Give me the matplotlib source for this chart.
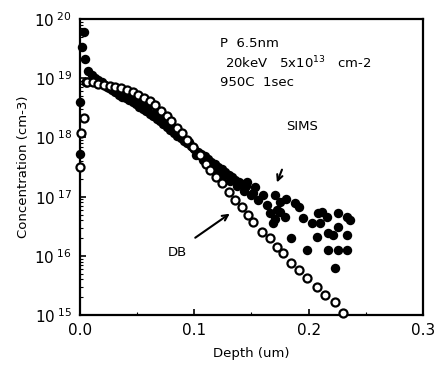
import matplotlib.pyplot as plt
import numpy as np

# Data (depth in um, log10 of concentration in cm-3)
db_depth = [0.000, 0.001, 0.003, 0.005,
            0.006, 0.011, 0.016, 0.021, 0.026, 0.031, 0.036, 0.041, 0.046, 0.051,
            0.056, 0.061, 0.066, 0.071, 0.076, 0.080, 0.085, 0.089, 0.094, 0.099,
            0.105, 0.110, 0.114, 0.119, 0.124, 0.130, 0.136, 0.142, 0.147, 0.151,
            0.159, 0.166, 0.172, 0.178, 0.185, 0.192, 0.199, 0.207, 0.214, 0.223, 0.230]
db_log = [17.50, 18.07, 18.33, 18.93,
          18.94, 18.93, 18.91, 18.89, 18.87, 18.85, 18.83, 18.80, 18.77, 18.72,
          18.67, 18.61, 18.54, 18.45, 18.36, 18.27, 18.16, 18.07, 17.95, 17.84,
          17.71, 17.56, 17.45, 17.34, 17.23, 17.08, 16.94, 16.82, 16.69, 16.57,
          16.40, 16.30, 16.15, 16.05, 15.88, 15.76, 15.63, 15.47, 15.34, 15.22, 15.03]

sims_depth = [0.003, 0.002, 0.004, 0.007, 0.000, 0.000,
              0.010, 0.013, 0.016, 0.019, 0.022, 0.025, 0.028, 0.031, 0.034, 0.037,
              0.040, 0.043, 0.046, 0.049, 0.052, 0.055, 0.058, 0.061, 0.064, 0.067,
              0.070, 0.073, 0.076, 0.079, 0.082, 0.085, 0.088, 0.091, 0.094, 0.097,
              0.100, 0.103, 0.106, 0.109, 0.112, 0.115, 0.118, 0.121, 0.124, 0.127,
              0.130, 0.133, 0.136, 0.139, 0.142, 0.145,
              0.0115, 0.0175, 0.0235, 0.0295, 0.0355, 0.0415, 0.0475, 0.0535, 0.0595,
              0.0655, 0.0715, 0.0775, 0.0835, 0.0895, 0.0955, 0.1015, 0.1075, 0.1135,
              0.1195, 0.1255, 0.1315, 0.1375, 0.1435, 0.1495,
              0.146, 0.153, 0.151, 0.156, 0.160, 0.1636, 0.166, 0.169, 0.1706, 0.171,
              0.172, 0.175, 0.175, 0.179, 0.180, 0.185, 0.188, 0.192, 0.195, 0.199,
              0.203, 0.207, 0.208, 0.210, 0.212, 0.216, 0.217, 0.217, 0.221, 0.223,
              0.226, 0.226, 0.226, 0.234, 0.234, 0.234, 0.236]
sims_log = [19.78, 19.53, 19.33, 19.13, 18.60, 17.72,
            19.05, 19.01, 18.97, 18.93, 18.88, 18.84, 18.80, 18.76, 18.72, 18.68,
            18.66, 18.63, 18.60, 18.56, 18.52, 18.48, 18.45, 18.40, 18.36, 18.31,
            18.27, 18.22, 18.17, 18.13, 18.08, 18.03, 17.99, 17.94, 17.90, 17.85,
            17.80, 17.76, 17.72, 17.68, 17.63, 17.58, 17.55, 17.50, 17.46, 17.41,
            17.37, 17.33, 17.28, 17.25, 17.21, 17.18,
            18.99, 18.92, 18.85, 18.80, 18.77, 18.72, 18.66, 18.59, 18.51,
            18.41, 18.33, 18.23, 18.13, 18.03, 17.93, 17.70, 17.62, 17.53,
            17.44, 17.35, 17.27, 17.18, 17.10, 17.02,
            17.25, 17.16, 17.06, 16.94, 17.02, 16.86, 16.72, 16.55, 17.03, 16.62,
            16.77, 16.91, 16.74, 16.66, 16.96, 16.30, 16.89, 16.82, 16.64, 16.10,
            16.55, 16.32, 16.72, 16.55, 16.74, 16.66, 16.39, 16.10, 16.35, 15.79,
            16.72, 16.49, 16.10, 16.35, 16.10, 16.65, 16.60]

fig = plt.figure(figsize=(4.4, 3.69), dpi=100)
ax = fig.add_axes([0.182, 0.146, 0.779, 0.8025])

ax.plot(sims_depth, 10 ** np.array(sims_log), 'o', color='black', markersize=6.8,
        markeredgewidth=0, clip_on=False, zorder=2)
ax.plot(db_depth, 10 ** np.array(db_log), 'o', markerfacecolor='white', markeredgecolor='black',
        markersize=5.8, markeredgewidth=1.6, clip_on=False, zorder=3)

ax.set_yscale('log')
ax.set_xlim(0, 0.3)
ax.set_ylim(1e15, 1e20)

ax.set_xticks([0.0, 0.1, 0.2, 0.3])
ax.set_xticklabels(['0.0', '0.1', '0.2', '0.3'], fontsize=11)
ax.set_xticks([0.05, 0.15, 0.25], minor=True)
ax.set_yticks([1e15, 1e16, 1e17, 1e18, 1e19, 1e20])
ax.set_yticklabels([r'$\mathregular{10^{\;%d}}$' % e for e in range(15, 21)], fontsize=11)
ax.tick_params(axis='both', which='both', direction='in', pad=6)
ax.tick_params(which='major', length=4, width=1.2)
ax.tick_params(which='minor', length=2.5, width=0.8)

for s in ax.spines.values():
    s.set_linewidth(1.6)

ax.set_xlabel('Depth (um)', fontsize=9.5, labelpad=6)
ax.set_ylabel('Concentration (cm-3)', fontsize=9.5, labelpad=3)

# annotations
ax.text(0.1225, 10 ** 19.59, 'P  6.5nm', fontsize=9.5, va='center')
ax.text(0.127, 10 ** 19.26, r'20keV   5x10$^{13}$   cm-2', fontsize=9.5, va='center')
ax.text(0.1225, 10 ** 18.92, '950C  1sec', fontsize=9.5, va='center')
ax.text(0.194, 10 ** 18.18, 'SIMS', fontsize=9.5, ha='center', va='center')
ax.annotate('', xy=(0.1714, 10 ** 17.196), xytext=(0.1776, 10 ** 17.50),
            arrowprops=dict(arrowstyle='->', color='black', lw=1.5))
ax.text(0.085, 10 ** 16.05, 'DB', fontsize=9.5, ha='center', va='center')
ax.annotate('', xy=(0.133, 10 ** 16.74), xytext=(0.0988, 10 ** 16.28),
            arrowprops=dict(arrowstyle='->', color='black', lw=1.5))

plt.savefig('out.png', dpi=100)
